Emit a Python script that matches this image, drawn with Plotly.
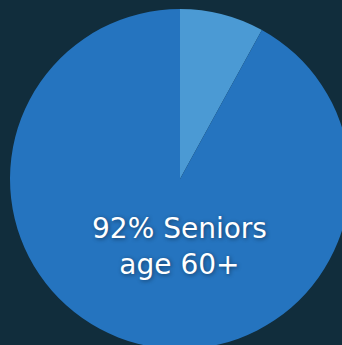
import plotly.graph_objects as go

labels = ["Other", "Seniors age 60+"]
values = [8, 92]
colors = ["#4b9ad4", "#2574bf"]
BG = "#112d3c"

W, H = 360, 360
fig = go.Figure(go.Pie(
    labels=labels,
    values=values,
    sort=False,
    direction="clockwise",
    rotation=0,
    marker=dict(colors=colors, line=dict(width=0)),
    textinfo="none",
    hoverinfo="label+percent",
    showlegend=False,
    domain=dict(x=[0, 1], y=[11 / H, 351 / H]),
))

fig.add_annotation(
    x=179 / W, y=1 - 246 / H, xref="paper", yref="paper",
    xanchor="center", yanchor="middle",
    text=f"{values[1]}% Seniors<br>age 60+",
    showarrow=False,
    font=dict(family="DejaVu Sans", size=28, color="white",
              shadow="1px 1px 4px rgba(0,0,0,0.45)"),
    align="center",
)

fig.update_layout(
    width=W, height=H,
    margin=dict(l=0, r=0, t=0, b=0),
    paper_bgcolor=BG, plot_bgcolor=BG,
)

fig.write_html(
    "out.html",
    config={"displayModeBar": False},
    post_script=f"document.body.style.margin='0';document.body.style.overflow='hidden';document.body.style.background='{BG}';document.documentElement.style.overflow='hidden';",
)
